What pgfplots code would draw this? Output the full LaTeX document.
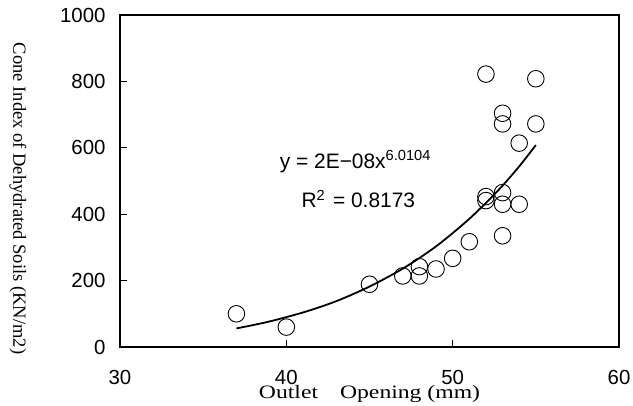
\documentclass[border=0pt]{standalone}
\usepackage{pgfplots}
\pgfplotsset{compat=1.18}
\usepackage{fontspec}
\setmainfont{Liberation Serif}
\newfontfamily\arial{Liberation Sans}
\newfontfamily\mincho[FakeStretch=1.25]{Liberation Serif}

\begin{document}
\begin{tikzpicture}
\begin{axis}[
    scale only axis, width=499bp, height=332bp,
    xmin=30, xmax=60, ymin=0, ymax=1000,
    xtick={30,40,50,60}, ytick={0,200,400,600,800,1000},
    xtick pos=bottom, ytick pos=left, tick align=inside,
    major tick length=6.7bp, minor tick num=0,
    axis line style={line width=1.3bp}, tick style={line width=0.9bp, black},
    /pgf/number format/assume math mode=true,
    /pgf/number format/1000 sep={},
    tick label style={font=\arial\fontsize{20.5}{24}\selectfont},
    xticklabel style={yshift=-20bp},
    yticklabel style={xshift=-11bp},
    xlabel={Outlet\hspace{22bp}Opening (mm)},
    xlabel style={font=\mincho\fontsize{19}{22}\selectfont, at={(axis description cs:0.5,-0.1566)}, anchor=base},
    ylabel={Cone Index of Dehydrated Soils (KN/m2)},
    ylabel style={font=\fontsize{18.6}{21}\selectfont, rotate=180, at={(axis description cs:-0.2044,0.447)}, anchor=center},
    clip=false,
]
% trend line
\addplot[black, line width=1.8bp, smooth] coordinates {
    (37,56) (38,66) (39,77) (40,90) (41,104) (42,120) (43,138) (44,159)
    (45,182) (46,208) (47,236) (48,268) (49,303) (50,343) (51,386)
    (52,434) (53,486) (54,544) (55,608)};
% observed points
\addplot[only marks, mark=o, mark size=8.3bp, mark options={line width=0.9bp, black}] coordinates {
    (37,100) (40,60) (45,189) (47,214) (48,242) (48,214) (49,235) (50,267)
    (51,317) (52,453) (52,441) (52,822) (53,465) (53,430) (53,335) (53,704)
    (53,672) (54,430) (54,614) (55,808) (55,672)};
\node[anchor=base west, font=\arial\fontsize{21}{25}\selectfont, inner sep=0pt] at (axis cs:39.6,539) {y = 2E−08x\textsuperscript{6.0104}};
\node[anchor=base west, font=\arial\fontsize{21}{25}\selectfont, inner sep=0pt] at (axis cs:40.9,419) {R\textsuperscript{2}\hspace{2bp} = 0.8173};
\end{axis}
\pgfresetboundingbox
\path[use as bounding box] ([shift={(-120bp,-59bp)}]current axis.south west) rectangle ([shift={(14bp,15bp)}]current axis.north east);
\end{tikzpicture}
\end{document}
